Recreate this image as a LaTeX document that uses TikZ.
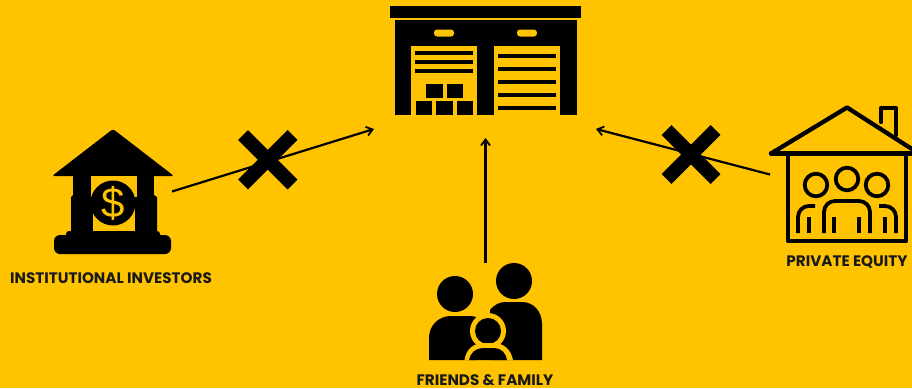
\documentclass[tikz,border=0pt]{standalone}
\usepackage{fontspec}
\setmainfont{Poppins}
\newfontfamily\dollarfont{Liberation Sans}
\usetikzlibrary{arrows.meta}
\definecolor{bgy}{HTML}{FFC300}
\tikzset{
 lbl/.style={font=\bfseries\fontsize{15.2}{17}\selectfont,text=black!90,inner sep=0pt,anchor=base},
 arr/.style={draw=black,line width=2.2pt,-{Straight Barb[length=6pt,width=9pt,line width=1.8pt]}},
 crossbar/.style={draw=black,line width=14pt},
 ic/.style={fill=black},
 cutout/.style={fill=bgy},
 hl/.style={draw=black,line width=4.3pt,line cap=round,line join=round},
 anchorpt/.style={inner sep=0pt,minimum size=0pt}
}
\begin{document}
\begin{tikzpicture}[x=1pt,y=-1pt]
\useasboundingbox (0,0) rectangle (912,388);
\fill[bgy] (0,0) rectangle (912,388);
% warehouse
\fill[ic] (390,6) rectangle (581,17.5);
\fill[ic] (395,20) rectangle (577,115);
\fill[cutout] (411,46) rectangle (477,115);
\fill[cutout] (493.5,46) rectangle (560,115);
\fill[cutout,rounded corners=3pt] (434,29.5) rectangle (454,36.5);
\fill[cutout,rounded corners=3pt] (517,29.5) rectangle (537,36.5);
\foreach \y in {53,62,71}{\fill[ic] (415,\y-2) rectangle (473,\y+2);}
\foreach \y in {56,69,82,95,108}{\fill[ic] (498,\y-2.3) rectangle (556,\y+2.3);}
\fill[ic] (426,83.5) rectangle (443,98);
\fill[ic] (447,83.5) rectangle (463,98);
\fill[ic] (416,101) rectangle (432,115);
\fill[ic] (436,101) rectangle (453,115);
\fill[ic] (457,101) rectangle (473,115);
% bank
\fill[ic,rounded corners=2.5pt] (113,129) -- (174,176) -- (52,176) -- cycle;
\fill[ic] (73,172) rectangle (154,236);
\fill[ic] (71,197) -- (73,195) -- (154,195) -- (157,197) -- (157,236) -- (71,236) -- cycle;
\fill[ic,rounded corners=3pt] (66,231) rectangle (160,240);
\fill[ic,rounded corners=6pt] (54,235) rectangle (171,254);
\fill[cutout] (91,176) rectangle (137,197);
\fill[cutout] (93,197) rectangle (135,231);
\fill[ic] (113,203) circle (22.5);
\node[anchorpt,text=bgy,font=\dollarfont\fontsize{42}{42}\selectfont] (dollar) at (113,203) {\$};
% house
\draw[hl] (771,153.5) -- (847,107.5) -- (915,151);
\draw[hl] (771,153.5) -- (915,153.5);
\draw[hl] (881,122) -- (881,108) -- (896,108) -- (896,135);
\draw[hl,line cap=butt] (788,153.5) -- (788,241) -- (906,241) -- (906,153.5);
\foreach \x/\y in {816/185,847/179,877/185}{\draw[hl,line width=3.8pt] (\x,\y) circle (11.3);}
\draw[hl,line width=3.8pt,line cap=butt] (824,233) -- (824,212) arc (180:270:11) -- (859,201) arc (270:360:11) -- (870,233);
\draw[hl,line width=3.8pt,line cap=butt] (798,233) -- (798,217) arc (180:270:11) -- (815,206);
\draw[hl,line width=3.8pt,line cap=butt] (896,233) -- (896,217) arc (360:270:11) -- (879,206);
\foreach \x in {809,834,859,885}{\draw[hl,line cap=butt] (\x,217) -- (\x,233);}
% family
\fill[ic] (514,281) circle (18);
\fill[ic] (455,294) circle (18);
\fill[ic] (490,310) .. controls (495,304) and (500,302) .. (506,302) -- (522,302) .. controls (534,302) and (542,312) .. (542,324) -- (542,360) -- (490,360) -- cycle;
\fill[ic] (429,360) -- (429,338) .. controls (429,325) and (439,316) .. (451,316) -- (470,316) .. controls (472,316) and (474,316.5) .. (476,317) -- (476,360) -- cycle;
\fill[cutout] (488,331) circle (18);
\fill[ic] (488,331) circle (13);
\fill[cutout] (464.5,360) .. controls (466,349) and (474,343) .. (483,343) -- (494,343) .. controls (503,343) and (511,349) .. (513,360) -- cycle;
\fill[ic] (469,360) .. controls (470,353) and (476,348) .. (483,348) -- (494,348) .. controls (501,348) and (506,353) .. (507,360) -- cycle;
% labels
\node[lbl] (inst) at (111,283.5) {INSTITUTIONAL INVESTORS};
\node[lbl] (pe) at (847,266.5) {PRIVATE EQUITY};
\node[lbl] (ff) at (485,385.5) {FRIENDS \& FAMILY};
% anchors
\coordinate (wl) at (374,129);
\coordinate (wb) at (485.5,138);
\coordinate (wr) at (596,129);
\coordinate (bk) at (172,191.5);
\coordinate (fm) at (485.5,263);
\coordinate (hs) at (770,174.5);
\draw[arr] (bk) -- (wl);
\draw[arr] (fm) -- (wb);
\draw[arr] (hs) -- (wr);
% crosses
\draw[crossbar] (243,135) -- (292.5,184.5);
\draw[crossbar] (292.5,135) -- (243,184.5);
\draw[crossbar] (666.5,130) -- (715.5,179);
\draw[crossbar] (715.5,130) -- (666.5,179);
\end{tikzpicture}
\end{document}
